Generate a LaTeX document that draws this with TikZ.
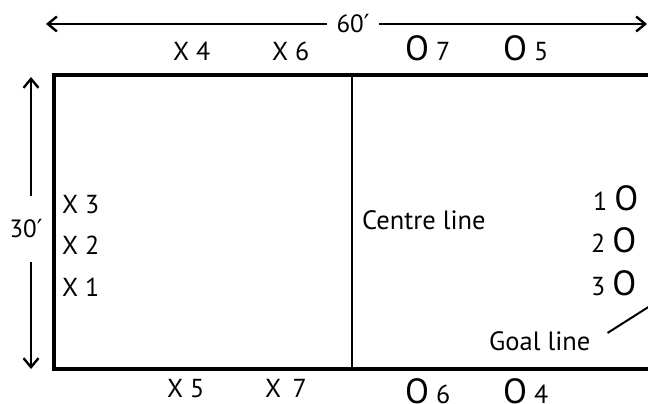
\documentclass[tikz,border=0pt]{standalone}
\usepackage{fontspec}
\setmainfont{PT Sans}
\newfontfamily\primefont{DejaVu Sans}
\usetikzlibrary{arrows.meta}
\newcommand\Obig{{\fontsize{35}{38}\selectfont O}}
\newcommand\primemark{{\primefont\char"2032}}
\begin{document}
\begin{tikzpicture}[x=1pt,y=-1pt,
  lab/.style={inner sep=0pt, anchor=base west, font=\fontsize{26}{29}\selectfont},
  txt/.style={inner sep=0pt, anchor=base west, font=\fontsize{26.5}{30}\selectfont},
  dim/.style={inner sep=0pt, font=\fontsize{25}{28}\selectfont},
  arr/.style={line width=2.4pt, -{Straight Barb[length=9pt,width=15pt,line width=2.4pt]}},
  court/.style={line width=4.5pt},
  centreline/.style={line width=2pt},
  pointer/.style={line width=2pt}]
\useasboundingbox (0,0) rectangle (648,404);
% court
\coordinate (tl) at (54,75);
\coordinate (br) at (656,369);
\draw[court] (tl) rectangle (br);
\coordinate (ct) at (352,75);
\coordinate (cb) at (352,369);
\draw[centreline] (ct) -- (cb);
% dimension 60'
\coordinate (hl) at (46,24);
\coordinate (hr) at (647,24);
\node[dim, minimum width=52pt, minimum height=20pt] (h60) at (353,24) {60\primemark};
\draw[arr] (h60.west) -- (hl);
\draw[arr] (h60.east) -- (hr);
% dimension 30'
\coordinate (vt) at (31,77);
\coordinate (vb) at (31,369);
\node[dim, minimum height=66pt] (v30) at (26,229) {30\primemark};
\draw[arr] (v30.north -| vt) -- (vt);
\draw[arr] (v30.south -| vb) -- (vb);
% top players
\node[lab] (x4) at (173,60) {X 4};
\node[lab] (x6) at (272,60) {X 6};
\node[lab] (o7) at (405,61) {\Obig\ 7};
\node[lab] (o5) at (503,61) {\Obig\ 5};
% bottom players
\node[lab] (x5) at (167,397) {X 5};
\node[lab] (x7) at (265,397) {X \,7};
\node[lab] (o6) at (405,403) {\Obig\ 6};
\node[lab] (o4) at (503,403) {\Obig\ 4};
% left players
\node[lab] (x3) at (62,213) {X 3};
\node[lab] (x2) at (62,254) {X 2};
\node[lab] (x1) at (62,296) {X 1};
% right players
\node[lab] (r1) at (593,210) {1 \Obig};
\node[lab] (r2) at (591,252) {2 \Obig};
\node[lab] (r3) at (591,295) {3 \Obig};
% texts
\node[txt] (centre) at (362,229) {Centre line};
\node[txt] (goal) at (489,350) {Goal line};
\coordinate (goalend) at (650,306);
\draw[pointer] ([shift={(17,2)}]goal.north east) -- (goalend);
\end{tikzpicture}
\end{document}
